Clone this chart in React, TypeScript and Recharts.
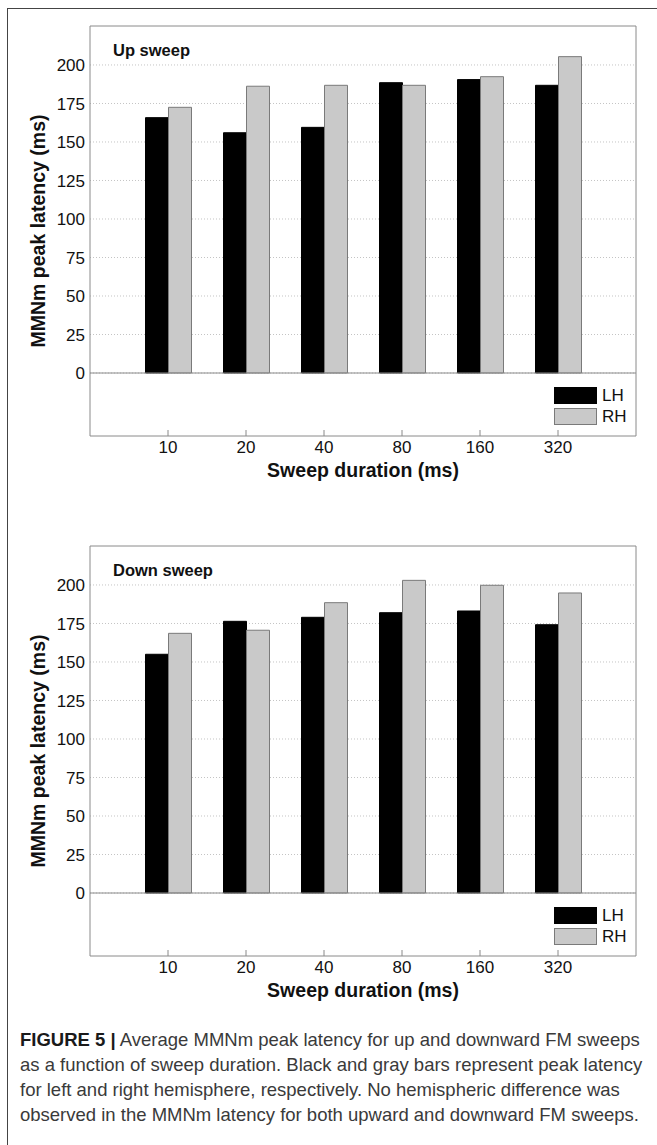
import React from 'react';
import { BarChart, Bar, XAxis, YAxis, CartesianGrid, ReferenceLine, Legend } from 'recharts';

const categories = ['10', '20', '40', '80', '160', '320'];
const upLH = [165.8, 156.0, 159.5, 188.5, 190.5, 186.8];
const upRH = [172.5, 186.2, 186.8, 186.8, 192.4, 205.4];
const downLH = [155.0, 176.4, 179.0, 182.0, 183.1, 174.2];
const downRH = [168.6, 170.6, 188.5, 203.0, 199.8, 194.8];
const yTicks = [0, 25, 50, 75, 100, 125, 150, 175, 200];
const yDomain: [number, number] = [-40.9, 225.3];
const seriesNames = ['LH', 'RH'];
const seriesFills = ['#000000', '#c9c9c9'];
const seriesStrokes = ['#000000', '#7a7a7a'];

const FONT = '"Liberation Sans", Arial, Helvetica, sans-serif';
const AX = '#8a8a8a';

function LegendBox() {
  return (
    <div style={{ fontFamily: FONT }}>
      {seriesNames.map((n, i) => (
        <div key={n} style={{ display: 'flex', alignItems: 'center', height: 21 }}>
          <div
            style={{
              width: 41,
              height: 15,
              background: seriesFills[i],
              border: `1px solid ${seriesStrokes[i]}`,
              marginRight: 5,
            }}
          />
          <span style={{ fontSize: 17, color: '#111', lineHeight: '21px' }}>{n}</span>
        </div>
      ))}
    </div>
  );
}

function Panel({ top, title, lh, rh }: { top: number; title: string; lh: number[]; rh: number[] }) {
  const data = categories.map((c, i) => ({ cat: c, LH: lh[i], RH: rh[i] }));
  return (
    <div style={{ position: 'absolute', left: 0, top, width: 657, height: 500 }}>
      <BarChart
        width={657}
        height={500}
        data={data}
        margin={{ top: 25, right: 20, bottom: 34, left: 30 }}
        barCategoryGap={16.5}
        barGap={0}
      >
        <CartesianGrid horizontal vertical={false} syncWithTicks stroke="#c4c4c4" strokeDasharray="1 2" />
        <XAxis
          dataKey="cat"
          interval={0}
          height={30}
          padding={{ left: 39, right: 39 }}
          axisLine={{ stroke: AX }}
          tickLine={{ stroke: AX }}
          tickSize={-6}
          tickMargin={11}
          tick={{ fontSize: 17, fill: '#111', fontFamily: FONT }}
        />
        <XAxis
          xAxisId="top"
          orientation="top"
          dataKey="cat"
          interval={0}
          height={1}
          padding={{ left: 39, right: 39 }}
          axisLine={{ stroke: AX }}
          tickLine={{ stroke: AX }}
          tickSize={-6}
          tick={false}
        />
        <YAxis
          width={60}
          domain={yDomain}
          allowDataOverflow
          ticks={yTicks}
          interval={0}
          axisLine={{ stroke: AX }}
          tickLine={false}
          tickSize={0}
          tickMargin={5}
          tick={{ fontSize: 17, fill: '#111', fontFamily: FONT }}
        />
        <YAxis
          yAxisId="right"
          orientation="right"
          width={1}
          domain={yDomain}
          allowDataOverflow
          ticks={yTicks}
          interval={0}
          axisLine={{ stroke: AX }}
          tickLine={{ stroke: AX }}
          tickSize={-4}
          tick={false}
        />
        <ReferenceLine y={0} stroke={AX} strokeWidth={1} />
        <Bar dataKey="LH" name="LH" fill={seriesFills[0]} stroke={seriesStrokes[0]} isAnimationActive={false} />
        <Bar dataKey="RH" name="RH" fill={seriesFills[1]} stroke={seriesStrokes[1]} isAnimationActive={false} />
        <Legend
          layout="vertical"
          align="center"
          verticalAlign="middle"
          wrapperStyle={{ left: 554, top: 385, width: 90, height: 44 }}
          content={() => <LegendBox />}
        />
      </BarChart>
      <div
        style={{
          position: 'absolute',
          left: 113,
          top: 40,
          fontFamily: FONT,
          fontWeight: 'bold',
          fontSize: 16.5,
          lineHeight: '20px',
          color: '#111',
          whiteSpace: 'nowrap',
        }}
      >
        {title}
      </div>
      <div
        style={{
          position: 'absolute',
          left: 90,
          width: 546,
          top: 458,
          textAlign: 'center',
          fontFamily: FONT,
          fontWeight: 'bold',
          fontSize: 19.5,
          lineHeight: '24px',
          color: '#111',
          whiteSpace: 'nowrap',
        }}
      >
        Sweep duration (ms)
      </div>
      <div
        style={{
          position: 'absolute',
          left: 38 - 150,
          top: 231 - 12,
          width: 300,
          height: 24,
          transform: 'rotate(-90deg)',
          textAlign: 'center',
          fontFamily: FONT,
          fontWeight: 'bold',
          fontSize: 19.5,
          lineHeight: '24px',
          color: '#111',
          whiteSpace: 'nowrap',
        }}
      >
        MMNm peak latency (ms)
      </div>
    </div>
  );
}

export default function App() {
  return (
    <div
      style={{
        position: 'absolute',
        left: 0,
        top: 0,
        width: 657,
        height: 1145,
        overflow: 'hidden',
        background: '#fff',
        fontFamily: FONT,
      }}
    >
      <div
        style={{
          position: 'absolute',
          left: 7,
          top: 8,
          width: 700,
          height: 1200,
          borderLeft: '1px solid #444',
          borderTop: '1px solid #444',
        }}
      />
      <Panel top={0} title="Up sweep" lh={upLH} rh={upRH} />
      <Panel top={520} title="Down sweep" lh={downLH} rh={downRH} />
      <div
        style={{
          position: 'absolute',
          left: 20,
          top: 1027,
          fontFamily: FONT,
          fontSize: 18.5,
          lineHeight: '25px',
          color: '#3a3a3a',
          whiteSpace: 'nowrap',
        }}
      >
        <span style={{ fontWeight: 'bold', color: '#1a1a1a' }}>FIGURE 5 |</span> Average MMNm peak latency for up and downward FM sweeps
        <br />
        as a function of sweep duration. Black and gray bars represent peak latency
        <br />
        for left and right hemisphere, respectively. No hemispheric difference was
        <br />
        observed in the MMNm latency for both upward and downward FM sweeps.
      </div>
    </div>
  );
}
